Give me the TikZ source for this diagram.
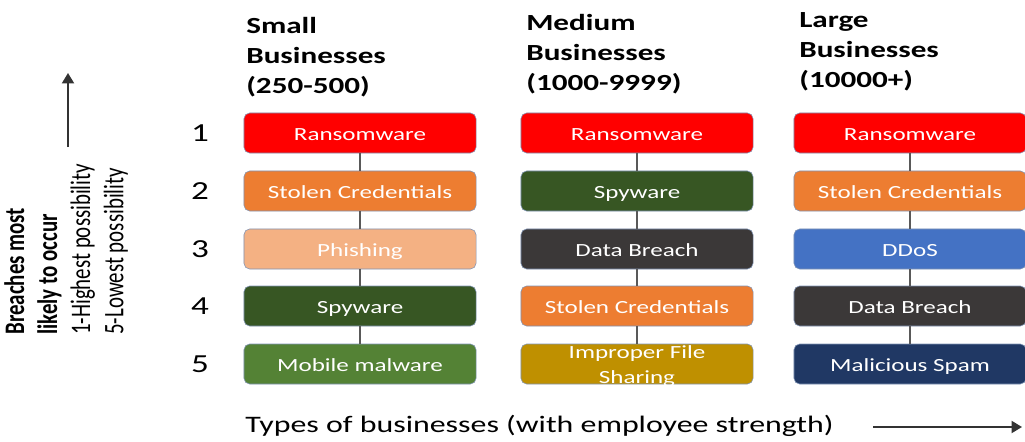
\documentclass[tikz,border=0pt]{standalone}
\usepackage{fontspec}
\setmainfont{Carlito}[FakeStretch=1.35]
\newfontfamily\sidefont{Carlito}[FakeStretch=0.74]
\usepackage{tikz}
\usetikzlibrary{shapes,positioning,arrows.meta}
\definecolor{ransom}{HTML}{FF0000}
\definecolor{orangec}{HTML}{ED7D31}
\definecolor{peach}{HTML}{F4B183}
\definecolor{darkgreen}{HTML}{375623}
\definecolor{midgreen}{HTML}{548235}
\definecolor{charcoal}{HTML}{3B3838}
\definecolor{goldc}{HTML}{BF9000}
\definecolor{bluec}{HTML}{4472C4}
\definecolor{navy}{HTML}{203864}
\definecolor{rimblue}{HTML}{7F93B5}
\definecolor{linegray}{HTML}{595959}
\tikzstyle{threat}=[draw=rimblue, rounded corners=4pt, minimum width=5.8cm, minimum height=1cm, inner sep=0pt, text height=11pt, text depth=0pt, text=white, font=\fontsize{13.2}{13.2}\selectfont]
\tikzstyle{edge}=[draw=linegray, thick]
\tikzstyle{heading}=[anchor=north west, align=left, inner sep=0pt, font=\fontsize{16.4}{21.3}\selectfont\bfseries]
\tikzstyle{rank}=[inner sep=0pt, font=\fontsize{18.5}{18.5}\selectfont]
\tikzstyle{axis}=[draw=black!80, line width=1.4pt, -{Triangle[length=2.6mm,width=3mm]}]

\begin{document}
\begin{tikzpicture}[x=0.025cm, y=-0.025cm]
            \useasboundingbox (0,0) rectangle (1025,441);

            % column headings
            \node[heading] (hs) at (246,17) {Small\\Businesses\\(250-500)};
            \node[heading] (hm) at (526,14) {Medium\\Businesses\\(1000-9999)};
            \node[heading] (hl) at (799,12) {Large\\Businesses\\(10000+)};

            % ranks
            \begin{scope}[every node/.style={rank}]
                \node (r1) at (200,133) {1};
                \node (r2) at (200,191) {2};
                \node (r3) at (200,249) {3};
                \node (r4) at (200,306) {4};
                \node (r5) at (200,364) {5};
            \end{scope}

            \begin{scope}[every node/.style={threat}]
                \node[fill=ransom] (s1) at (360,133) {Ransomware};
                \node[fill=orangec] (s2) at (360,191) {Stolen Credentials};
                \node[fill=peach] (s3) at (360,249) {Phishing};
                \node[fill=darkgreen] (s4) at (360,306) {Spyware};
                \node[fill=midgreen] (s5) at (360,364) {Mobile malware};

                \node[fill=ransom] (m1) at (637,133) {Ransomware};
                \node[fill=darkgreen] (m2) at (637,191) {Spyware};
                \node[fill=charcoal] (m3) at (637,249) {Data Breach};
                \node[fill=orangec] (m4) at (637,306) {Stolen Credentials};
                \node[fill=goldc] (m5) at (637,364) {};

                \node[fill=ransom] (l1) at (910,133) {Ransomware};
                \node[fill=orangec] (l2) at (910,191) {Stolen Credentials};
                \node[fill=bluec] (l3) at (910,249) {DDoS};
                \node[fill=charcoal] (l4) at (910,306) {Data Breach};
                \node[fill=navy] (l5) at (910,364) {Malicious Spam};
            \end{scope}
            \node[text=white, align=center, inner sep=0pt, font=\fontsize{13.2}{17.8}\selectfont] (m5t) at (637,366) {Improper File\\Sharing};

            \begin{scope}[every path/.style={edge}]
                \path (s1) -- (s2) -- (s3) -- (s4) -- (s5);
                \path (m1) -- (m2) -- (m3) -- (m4) -- (m5);
                \path (l1) -- (l2) -- (l3) -- (l4) -- (l5);
            \end{scope}

            % side caption and axes
            \node[rotate=90, anchor=north west, align=left, inner sep=0pt, font=\sidefont\fontsize{20.1}{23.5}\selectfont] (side) at (4,335) {\textbf{Breaches most}\\\textbf{likely to occur}\\1-Highest possibility\\5-Lowest possibility};
            \node[anchor=west, inner sep=0pt, font=\fontsize{16.8}{16.8}\selectfont] (types) at (245,426) {Types of businesses (with employee strength)};
            \coordinate (ys) at (68,147);
            \coordinate (ye) at (68,73);
            \coordinate (xs) at (873,427);
            \coordinate (xe) at (1022,427);
            \path[axis] (ys) -- (ye);
            \path[axis] (xs) -- (xe);
        \end{tikzpicture}
\end{document}
